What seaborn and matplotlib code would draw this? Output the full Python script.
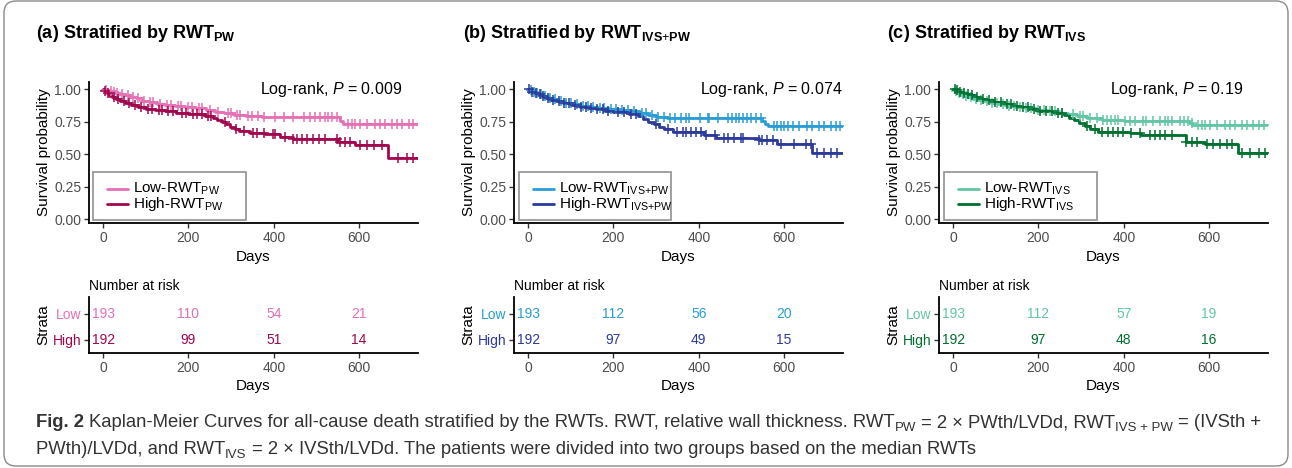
import numpy as np
import pandas as pd
import matplotlib
matplotlib.use("Agg")
import matplotlib.pyplot as plt
import seaborn as sns
from matplotlib.lines import Line2D
from matplotlib.patches import FancyBboxPatch, Rectangle
from matplotlib import font_manager

# ---------------- data ----------------
risk_times = [0, 200, 400, 600]
x_ticks = [0, 200, 400, 600]
y_ticks = [0.00, 0.25, 0.50, 0.75, 1.00]

# Panel (a) RWT_PW
a_low_t = [0, 6, 12, 20, 28, 38, 50, 62, 76, 92, 108, 126, 146, 168, 192, 218, 242, 262, 284, 306, 334, 372, 430, 556, 562]
a_low_s = [1.0, 0.994, 0.987, 0.979, 0.971, 0.962, 0.952, 0.941, 0.929, 0.912, 0.898, 0.885, 0.876, 0.868, 0.860, 0.852, 0.840, 0.826, 0.813, 0.800, 0.793, 0.787, 0.783, 0.757, 0.728]
a_low_cens = [8, 18, 25, 33, 45, 58, 70, 83, 95, 110, 118, 133, 150, 158, 175, 183, 200, 208, 225, 232, 250, 270, 292, 300, 315, 322, 340, 350, 362, 376, 403, 423, 446, 470, 485, 497, 509, 520, 528, 536, 548, 575, 583, 591, 602, 618, 637, 649, 661, 676, 688, 700, 716, 727]
a_high_t = [0, 4, 9, 15, 22, 30, 40, 52, 66, 82, 100, 121, 145, 170, 200, 238, 258, 268, 278, 288, 298, 308, 318, 345, 380, 415, 445, 551, 590, 668]
a_high_s = [1.0, 0.985, 0.970, 0.955, 0.940, 0.925, 0.905, 0.890, 0.875, 0.862, 0.850, 0.838, 0.828, 0.818, 0.808, 0.790, 0.780, 0.765, 0.748, 0.730, 0.712, 0.695, 0.678, 0.665, 0.655, 0.635, 0.620, 0.595, 0.567, 0.470]
a_high_cens = [5, 12, 26, 35, 48, 60, 75, 90, 105, 115, 130, 138, 152, 165, 185, 195, 210, 220, 232, 245, 252, 285, 312, 330, 352, 360, 376, 399, 403, 427, 446, 454, 466, 477, 493, 505, 520, 548, 555, 567, 579, 602, 618, 634, 653, 690, 712, 727]
a_risk_low = [193, 110, 54, 21]
a_risk_high = [192, 99, 51, 14]
a_pval = "0.009"

# Panel (b) RWT_IVS+PW
b_low_t = [0, 5, 10, 16, 24, 33, 44, 56, 70, 86, 104, 122, 142, 165, 190, 215, 240, 262, 282, 300, 325, 380, 549, 556, 562]
b_low_s = [1.0, 0.990, 0.980, 0.970, 0.960, 0.950, 0.935, 0.922, 0.910, 0.897, 0.885, 0.873, 0.862, 0.852, 0.845, 0.837, 0.828, 0.818, 0.800, 0.788, 0.780, 0.775, 0.755, 0.735, 0.715]
b_low_cens = [6, 14, 22, 30, 40, 52, 63, 78, 90, 100, 115, 128, 140, 152, 168, 178, 195, 205, 220, 235, 248, 268, 276, 290, 305, 318, 332, 345, 358, 371, 378, 402, 421, 425, 444, 468, 479, 487, 495, 503, 514, 522, 534, 545, 577, 584, 592, 600, 608, 620, 635, 654, 666, 682, 693, 709, 721, 732]
b_high_t = [0, 4, 9, 15, 22, 30, 40, 52, 66, 82, 100, 121, 140, 160, 180, 200, 237, 258, 270, 282, 294, 306, 318, 340, 413, 441, 541, 584, 666]
b_high_s = [1.0, 0.990, 0.980, 0.970, 0.960, 0.950, 0.935, 0.920, 0.905, 0.890, 0.878, 0.866, 0.855, 0.845, 0.835, 0.825, 0.810, 0.790, 0.770, 0.750, 0.730, 0.710, 0.690, 0.672, 0.650, 0.625, 0.610, 0.575, 0.510]
b_high_cens = [3, 10, 18, 27, 36, 46, 58, 72, 85, 96, 110, 125, 135, 148, 162, 175, 188, 210, 225, 242, 252, 300, 328, 350, 362, 371, 382, 394, 405, 417, 437, 460, 468, 483, 499, 503, 542, 549, 561, 573, 592, 623, 651, 662, 678, 693, 709, 725]
b_risk_low = [193, 112, 56, 20]
b_risk_high = [192, 97, 49, 15]
b_pval = "0.074"

# Panel (c) RWT_IVS
c_low_t = [0, 5, 11, 18, 26, 35, 46, 58, 72, 88, 105, 124, 145, 168, 195, 222, 248, 270, 290, 315, 350, 400, 552, 560]
c_low_s = [1.0, 0.985, 0.972, 0.960, 0.950, 0.940, 0.928, 0.916, 0.905, 0.893, 0.882, 0.872, 0.862, 0.852, 0.840, 0.830, 0.820, 0.810, 0.790, 0.775, 0.765, 0.756, 0.740, 0.725]
c_low_cens = [7, 15, 23, 31, 42, 54, 66, 80, 92, 103, 117, 130, 143, 156, 170, 182, 198, 212, 228, 240, 255, 280, 298, 305, 322, 338, 352, 360, 371, 379, 387, 402, 414, 426, 445, 453, 469, 485, 496, 504, 512, 532, 540, 551, 559, 575, 583, 590, 602, 618, 637, 649, 661, 677, 688, 704, 716, 728]
c_high_t = [0, 6, 12, 20, 30, 40, 52, 66, 80, 96, 119, 140, 158, 178, 197, 237, 260, 272, 284, 296, 308, 320, 339, 414, 441, 547, 590, 668]
c_high_s = [1.0, 0.990, 0.980, 0.970, 0.962, 0.954, 0.942, 0.928, 0.915, 0.900, 0.885, 0.872, 0.860, 0.845, 0.833, 0.820, 0.800, 0.780, 0.760, 0.740, 0.715, 0.690, 0.670, 0.660, 0.646, 0.595, 0.575, 0.505]
c_high_cens = [4, 10, 17, 25, 34, 44, 56, 70, 84, 98, 112, 126, 136, 150, 164, 176, 190, 204, 218, 232, 245, 255, 315, 332, 348, 362, 375, 387, 398, 418, 438, 461, 473, 485, 496, 512, 547, 559, 571, 594, 610, 626, 641, 653, 677, 696, 716, 731]
c_risk_low = [193, 112, 57, 19]
c_risk_high = [192, 97, 48, 16]
c_pval = "0.19"

titles = [r"(a) Stratified by RWT$_\mathbf{PW}$",
          r"(b) Stratified by RWT$_{\mathbf{IVS}{+}\mathbf{PW}}$",
          r"(c) Stratified by RWT$_\mathbf{IVS}$"]
subs = [r"\mathrm{PW}", r"\mathrm{IVS}{+}\mathrm{PW}", r"\mathrm{IVS}"]
low_colors = ["#E570B4", "#2A9DD4", "#62C6A4"]
high_colors = ["#A1064F", "#2C3A9B", "#00702F"]

# ---------------- style ----------------
sns.set_style("white")
plt.rcParams["font.family"] = ["Liberation Sans", "DejaVu Sans"]
plt.rcParams["mathtext.fontset"] = "custom"
plt.rcParams["mathtext.rm"] = "Liberation Sans"
plt.rcParams["mathtext.it"] = "Liberation Sans:italic"
plt.rcParams["mathtext.bf"] = "Liberation Sans:bold"
plt.rcParams["mathtext.sf"] = "Liberation Sans"

W, H = 1292, 468
fig = plt.figure(figsize=(W / 100, H / 100), dpi=100)
fig.patch.set_facecolor("white")

XMIN, XMAX = -33, 738
TICK_GRAY = "#4D4D4D"

panels = [
    (a_low_t, a_low_s, a_low_cens, a_high_t, a_high_s, a_high_cens, a_risk_low, a_risk_high, a_pval),
    (b_low_t, b_low_s, b_low_cens, b_high_t, b_high_s, b_high_cens, b_risk_low, b_risk_high, b_pval),
    (c_low_t, c_low_s, c_low_cens, c_high_t, c_high_s, c_high_cens, c_risk_low, c_risk_high, c_pval),
]
spine_x = [89, 514, 939]
title_x = [36, 463, 887]
logrank_day = [368, 404, 367]
legend_box = [(93, 246), (519, 671), (944, 1097)]


def px(x, y):
    return x / W, 1 - y / H


def step_at(times, surv, q):
    idx = np.searchsorted(np.asarray(times), np.asarray(q), side="right") - 1
    return np.asarray(surv)[idx]


def style_axis(ax):
    for s in ["top", "right"]:
        ax.spines[s].set_visible(False)
    for s in ["left", "bottom"]:
        ax.spines[s].set_color("black")
        ax.spines[s].set_linewidth(1.3)
    ax.tick_params(axis="both", which="major", length=3.5, width=1.0, color="#333333",
                   labelsize=10, labelcolor=TICK_GRAY, pad=2, direction="out",
                   bottom=True, left=True)
    ax.grid(False)


for i, (lt, ls, lc, ht, hs, hc, rl, rh, pval) in enumerate(panels):
    L = spine_x[i]
    ax = fig.add_axes([L / W, (H - 223) / H, 329 / W, 141 / H])
    for t, s, c, col in [(lt, ls, lc, low_colors[i]), (ht, hs, hc, high_colors[i])]:
        df = pd.DataFrame({"time": list(t) + [XMAX], "surv": list(s) + [s[-1]]})
        sns.lineplot(data=df, x="time", y="surv", drawstyle="steps-post", color=col,
                     lw=2.0, ax=ax, legend=False, estimator=None, sort=False)
        cdf = pd.DataFrame({"time": c, "surv": step_at(t, s, c)})
        sns.scatterplot(data=cdf, x="time", y="surv", marker="+", s=42, color=col,
                        linewidth=1.1, ax=ax, legend=False, zorder=3)
    ax.set_xlim(XMIN, XMAX)
    ax.set_ylim(-0.03, 1.055)
    ax.set_xticks(x_ticks)
    ax.set_yticks(y_ticks)
    ax.set_yticklabels([f"{v:.2f}" for v in y_ticks])
    style_axis(ax)
    ax.set_xlabel("Days", fontsize=11, labelpad=4, color="black")
    ax.set_ylabel("Survival probability", fontsize=11, labelpad=2, color="black")
    ax.text(logrank_day[i], 1.0, r"Log-rank, $P$ = " + pval, fontsize=11.5,
            va="center", ha="left", color="black")

    # legend box (drawn by hand to match the reference frame size)
    x0, x1 = legend_box[i]
    fig.add_artist(Rectangle(px(x0, 220), (x1 - x0) / W, 48 / H, transform=fig.transFigure,
                             facecolor="white", edgecolor="#999999", linewidth=1.3, zorder=5))
    labels = [r"Low-RWT$_{" + subs[i] + r"}$", r"High-RWT$_{" + subs[i] + r"}$"]
    for row_y, lab, col in [(189, labels[0], low_colors[i]), (204, labels[1], high_colors[i])]:
        fig.add_artist(Line2D([(x0 + 14) / W, (x0 + 35) / W], [1 - row_y / H, 1 - row_y / H],
                              transform=fig.transFigure, color=col, lw=2, zorder=6))
        fig.text((x0 + 40) / W, 1 - row_y / H, lab, fontsize=11, va="center", ha="left",
                 color="black", zorder=6)

    fig.text(title_x[i] / W, 1 - 33 / H, titles[i], fontsize=13, fontweight="bold",
             va="center", ha="left", color="black")

    # risk table
    rax = fig.add_axes([L / W, (H - 353) / H, 329 / W, 56 / H])
    rax.set_xlim(XMIN, XMAX)
    rax.set_ylim(-0.5, 1.65)
    for row, vals, col in [(1, rl, low_colors[i]), (0, rh, high_colors[i])]:
        for tt, v in zip(risk_times, vals):
            rax.text(tt, row, str(v), ha="center", va="center", color=col, fontsize=10)
    rax.set_xticks(x_ticks)
    rax.set_yticks([1, 0])
    rax.set_yticklabels(["Low", "High"])
    style_axis(rax)
    for lab, col in zip(rax.get_yticklabels(), [low_colors[i], high_colors[i]]):
        lab.set_color(col)
    rax.set_xlabel("Days", fontsize=11, labelpad=3, color="black")
    rax.set_ylabel("Strata", fontsize=11, labelpad=2, color="black")
    rax.set_title("Number at risk", loc="left", fontsize=10, pad=5, color="black")

# ---------------- caption ----------------
names = {f.name for f in font_manager.fontManager.ttflist}
cap_family = ["Liberation Sans Narrow", "DejaVu Sans"] if "Liberation Sans Narrow" in names else ["Liberation Sans", "DejaVu Sans"]
CAP_SIZE = 13.3
CAP_COLOR = "#333333"
renderer = fig.canvas.get_renderer()


def text_w(s, size, weight="normal"):
    t = fig.text(0, 0, s, fontsize=size, family=cap_family, fontweight=weight)
    w = t.get_window_extent(renderer).width
    t.remove()
    return w


SPACE_W = text_w("a a", CAP_SIZE) - text_w("aa", CAP_SIZE)


def draw_line(x, y, segments):
    for txt, kind in segments:
        n_lead = len(txt) - len(txt.lstrip(" "))
        n_trail = len(txt) - len(txt.rstrip(" "))
        x += n_lead * SPACE_W
        core = txt.strip(" ")
        size = CAP_SIZE * 0.72 if kind == "sub" else CAP_SIZE
        weight = "bold" if kind == "bold" else "normal"
        yy = y + (4 if kind == "sub" else 0)
        t = fig.text(x / W, 1 - yy / H, core, fontsize=size, family=cap_family,
                     fontweight=weight, color=CAP_COLOR, va="baseline", ha="left")
        x += t.get_window_extent(renderer).width + n_trail * SPACE_W


line1 = [("Fig. 2", "bold"),
         (" Kaplan-Meier Curves for all-cause death stratified by the RWTs. RWT, relative wall thickness. RWT", "n"),
         ("PW", "sub"), (" = 2 × PWth/LVDd, RWT", "n"), ("IVS + PW", "sub"), (" = (IVSth +", "n")]
line2 = [("PWth)/LVDd, and RWT", "n"), ("IVS", "sub"),
         (" = 2 × IVSth/LVDd. The patients were divided into two groups based on the median RWTs", "n")]
draw_line(36, 427, line1)
draw_line(36, 454, line2)

border = FancyBboxPatch((4, 2), 1284, 465, boxstyle="round,pad=0,rounding_size=12",
                        transform=None, fill=False, edgecolor="#8A8A8A", linewidth=1.0)
fig.add_artist(border)

fig.savefig("out.png", dpi=100, facecolor="white")
